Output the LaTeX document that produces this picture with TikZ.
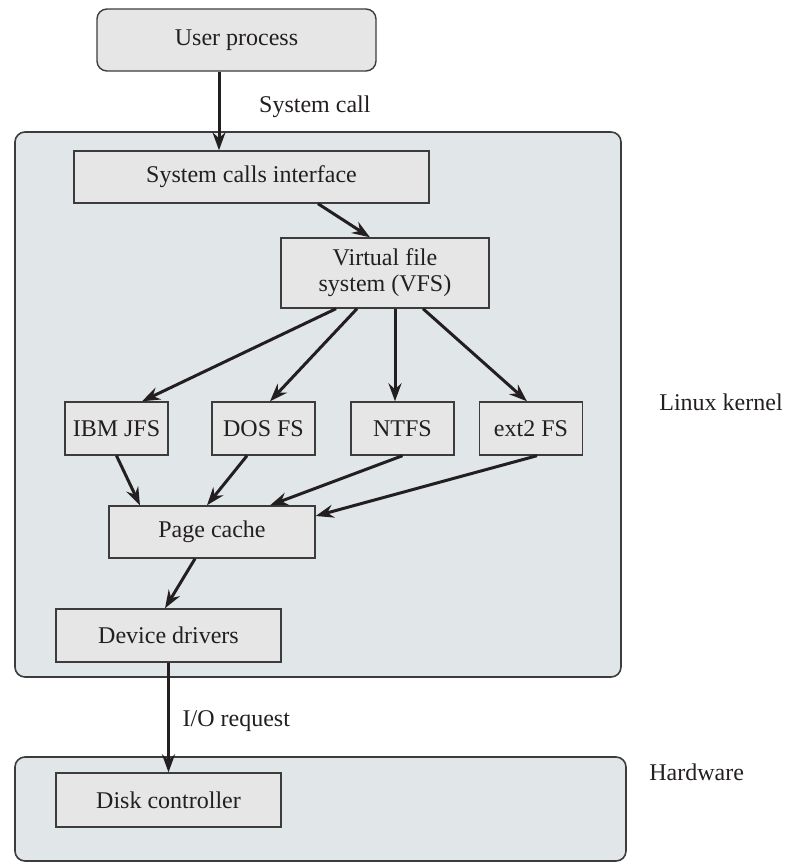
\documentclass[tikz,border=0pt]{standalone}
\usepackage{fontspec}
\setmainfont{Liberation Serif}
\usetikzlibrary{arrows.meta}
\definecolor{kernelfill}{HTML}{E1E7E8}
\definecolor{boxfill}{HTML}{E6E6E6}
\definecolor{edgegray}{HTML}{3C3C3C}
\definecolor{inkblack}{HTML}{231F20}

\begin{document}
\begin{tikzpicture}[x=0.5pt,y=-0.5pt,font=\fontsize{12}{13}\selectfont,text=inkblack,
    >={Stealth[length=9pt,width=6.5pt,inset=3pt]},
    box/.style={draw=edgegray,fill=boxfill,line width=0.7pt,inner sep=0pt,align=center},
    fsbox/.style={box,minimum width=51.5pt,minimum height=26.5pt},
    flow/.style={->,draw=inkblack,line width=1.5pt},
    layer/.style={draw=edgegray,fill=kernelfill,line width=0.8pt,rounded corners=5pt}]
    \useasboundingbox (0,0) rectangle (785,863);

    % kernel and hardware areas
    \draw[layer] (15,132) rectangle (621,677);
    \draw[layer] (15,757) rectangle (626,861);
    \node[anchor=west,inner sep=0pt] (kernellbl) at (659,402) {Linux kernel};
    \node[anchor=west,inner sep=0pt] (hwlbl) at (649,772) {Hardware};

    \node[box,rounded corners=5pt,minimum width=139.5pt,minimum height=31pt]
        (up) at (236.5,40) {User process};
    \node[box,minimum width=177.5pt,minimum height=26pt]
        (sci) at (251.5,177) {System calls interface};
    \node[box,minimum width=104pt,minimum height=35pt]
        (vfs) at (385,273) {Virtual file\\system (VFS)};
    \foreach \name/\x/\txt in {ibm/116.5/IBM JFS,dos/263.5/DOS FS,ntfs/402.5/NTFS,ext/531/ext2 FS}{
        \node[fsbox] (\name) at (\x,428.5) {\txt};
    }
    \node[box,minimum width=103pt,minimum height=26pt]
        (pc) at (212,532) {Page cache};
    \node[box,minimum width=112.5pt,minimum height=26.5pt]
        (dd) at (168.5,635.5) {Device drivers};
    \node[box,minimum width=112.5pt,minimum height=27pt]
        (disk) at (168.5,800) {Disk controller};

    % calls down the stack
    \draw[flow] ([xshift=-8.75pt]up.south) -- ([xshift=-16.25pt]sci.north)
        node[midway,right=16pt,yshift=2pt] (calllbl) {System call};
    \draw[flow] ([xshift=33.25pt]sci.south) -- ([xshift=-7.5pt]vfs.north);
    \draw[flow] ([xshift=-24.5pt]vfs.south) -- ([xshift=12.75pt]ibm.north);
    \draw[flow] ([xshift=-14pt]vfs.south) -- ([xshift=3.25pt]dos.north);
    \draw[flow] ([xshift=5pt]vfs.south) -- ([xshift=-3.75pt]ntfs.north);
    \draw[flow] ([xshift=19pt]vfs.south) -- ([xshift=-2pt]ext.north);
    \draw[flow] (ibm.south) -- ([xshift=-36pt]pc.north);
    \draw[flow] ([xshift=-8.25pt]dos.south) -- ([xshift=-2.5pt]pc.north);
    \draw[flow] (ntfs.south) -- ([xshift=29pt]pc.north);
    \draw[flow] ([xshift=3pt]ext.south) -- ([yshift=8pt]pc.east);
    \draw[flow] ([xshift=-8.5pt]pc.south) -- ([xshift=-1.75pt]dd.north);
    \draw[flow] (dd.south) -- (disk.north)
        node[midway,right=3pt,yshift=-2pt] (iolbl) {I/O request};
\end{tikzpicture}
\end{document}
